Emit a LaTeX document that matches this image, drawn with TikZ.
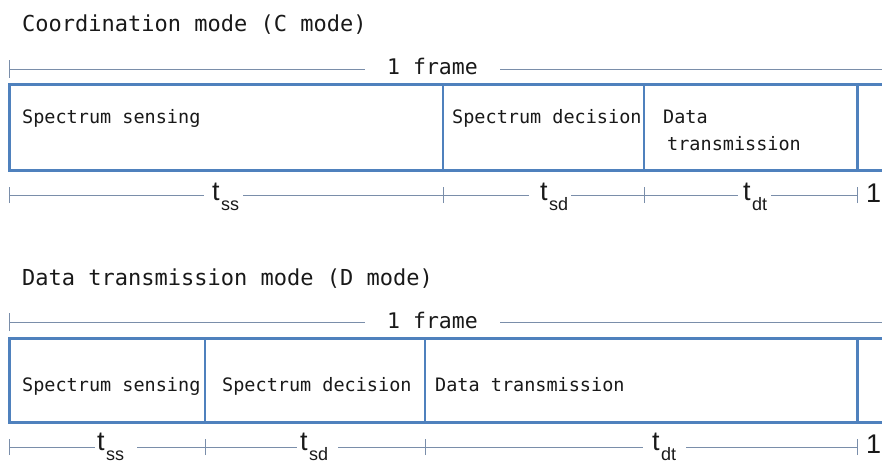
\documentclass[tikz,border=0pt]{standalone}
\usepackage{fontspec}
\setmainfont{DejaVu Sans Mono}
\newfontfamily\timefont{Liberation Sans}
\definecolor{boxblue}{RGB}{79,129,189}
\definecolor{rulegray}{RGB}{122,142,170}
\definecolor{ink}{RGB}{25,25,25}
\tikzset{
  framebox/.style={draw=boxblue, line width=3pt},
  rule/.style={draw=rulegray, line width=0.9pt},
  titletext/.style={inner sep=0pt, anchor=base west, text=ink, font=\fontsize{22}{26}\selectfont},
  segtext/.style={inner sep=0pt, anchor=base west, text=ink, font=\fontsize{18.5}{22}\selectfont},
  frametext/.style={inner sep=0pt, anchor=base west, text=ink, font=\fontsize{21.5}{26}\selectfont},
  timetext/.style={inner sep=0pt, anchor=base west, text=ink, font=\timefont\fontsize{27}{30}\selectfont},
}
% time symbol with a lowered subscript
\newcommand{\tsub}[2]{#1\hspace{1.5pt}\raisebox{-10pt}{\fontsize{18}{20}\selectfont #2}}
\begin{document}
\begin{tikzpicture}[x=1pt, y=-1pt]
\useasboundingbox (0,0) rectangle (882,465);
\clip (0,0) rectangle (882,465);

% ---------------- Coordination mode ----------------
\node[titletext] (ctitle) at (22,32) {Coordination mode (C mode)};

% frame length rule
\coordinate (cf0) at (9,69);
\coordinate (cf1) at (900,69);
\node[frametext] (cframe) at (387,75) {1 frame};
\draw[rule] (cf0) -- ([xshift=-22pt]cf0 -| cframe.west);
\draw[rule] ([xshift=22pt]cf1 -| cframe.east) -- (cf1);
\draw[rule] ([yshift=-9pt]cf0) -- ([yshift=9pt]cf0);

% frame box and slot dividers
\draw[framebox] (9,85) rectangle (900,170);
\draw[boxblue, line width=2pt] (443,85) -- (443,170);
\draw[boxblue, line width=2pt] (644,85) -- (644,170);
\draw[framebox] (857,85) -- (857,170);

\node[segtext] (css) at (22,124) {Spectrum sensing};
\node[segtext] (csd) at (452,124) {Spectrum decision};
\node[segtext] (cdt1) at (663,124) {Data};
\node[segtext] (cdt2) at (667,151) {transmission};

% slot durations
\coordinate (ct0) at (9,195);
\coordinate (ct1) at (443,195);
\coordinate (ct2) at (644,195);
\coordinate (ct3) at (857,195);
\node[timetext] (ctss) at (212,200) {\tsub{t}{ss}};
\node[timetext] (ctsd) at (540,200) {\tsub{t}{sd}};
\node[timetext] (ctdt) at (743,200) {\tsub{t}{dt}};
\node[timetext] (cone) at (866,202) {1};
\draw[rule] (ct0) -- ([xshift=-8pt]ct0 -| ctss.west);
\draw[rule] ([xshift=4pt]ct0 -| ctss.east) -- (ct1);
\draw[rule] (ct1) -- ([xshift=-11pt]ct1 -| ctsd.west);
\draw[rule] ([xshift=3pt]ct1 -| ctsd.east) -- (ct2);
\draw[rule] (ct2) -- ([xshift=-5pt]ct2 -| ctdt.west);
\draw[rule] ([xshift=4pt]ct2 -| ctdt.east) -- (ct3);
\foreach \c in {ct0,ct1,ct2,ct3}
  \draw[rule] ([yshift=-8pt]\c) -- ([yshift=8pt]\c);

% ---------------- Data transmission mode ----------------
\node[titletext] (dtitle) at (22,285) {Data transmission mode (D mode)};

\coordinate (df0) at (9,322);
\coordinate (df1) at (900,322);
\node[frametext] (dframe) at (387,328) {1 frame};
\draw[rule] (df0) -- ([xshift=-22pt]df0 -| dframe.west);
\draw[rule] ([xshift=22pt]df1 -| dframe.east) -- (df1);
\draw[rule] ([yshift=-9pt]df0) -- ([yshift=9pt]df0);

\draw[framebox] (9,338) rectangle (900,422);
\draw[boxblue, line width=2pt] (205,338) -- (205,422);
\draw[boxblue, line width=2pt] (425,338) -- (425,422);
\draw[framebox] (857,338) -- (857,422);

\node[segtext] (dss) at (22,391) {Spectrum sensing};
\node[segtext] (dsd) at (222,391) {Spectrum decision};
\node[segtext] (ddt) at (435,391) {Data transmission};

\coordinate (dt0) at (9,447);
\coordinate (dt1) at (205,447);
\coordinate (dt2) at (425,447);
\coordinate (dt3) at (857,447);
\node[timetext] (dtss) at (97,450) {\tsub{t}{ss}};
\node[timetext] (dtsd) at (300,450) {\tsub{t}{sd}};
\node[timetext] (dtdt) at (652,450) {\tsub{t}{dt}};
\node[timetext] (done) at (866,453) {1};
\draw[rule] (dt0) -- ([xshift=-2pt]dt0 -| dtss.west);
\draw[rule] ([xshift=13pt]dt0 -| dtss.east) -- (dt1);
\draw[rule] (dt1) -- ([xshift=-3pt]dt1 -| dtsd.west);
\draw[rule] ([xshift=10pt]dt1 -| dtsd.east) -- (dt2);
\draw[rule] (dt2) -- ([xshift=-9pt]dt2 -| dtdt.west);
\draw[rule] ([xshift=10pt]dt2 -| dtdt.east) -- (dt3);
\foreach \c in {dt0,dt1,dt2,dt3}
  \draw[rule] ([yshift=-8pt]\c) -- ([yshift=8pt]\c);
\end{tikzpicture}
\end{document}
